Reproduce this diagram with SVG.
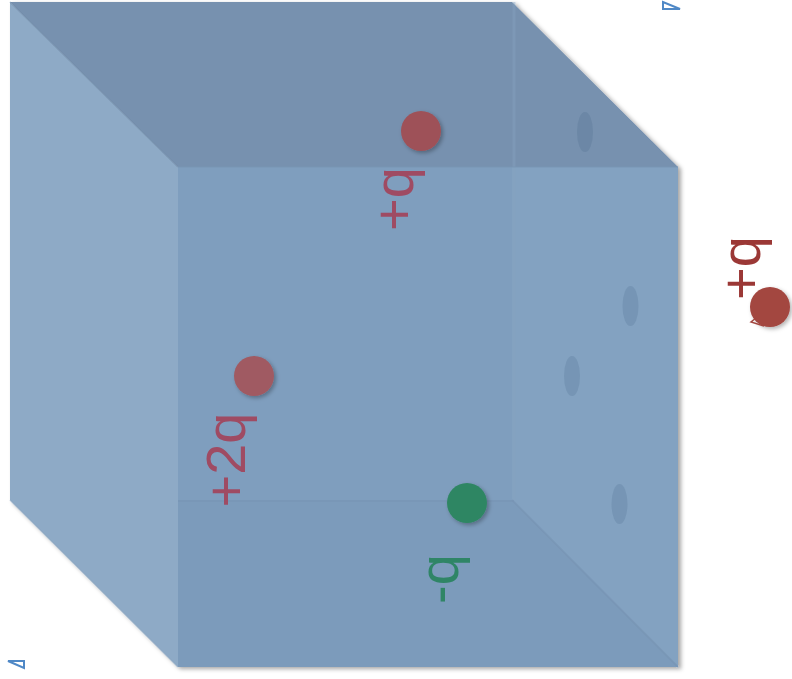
<svg xmlns="http://www.w3.org/2000/svg" width="792" height="679" viewBox="0 0 792 679">
<defs>
<filter id="cubeShadow" x="-5%" y="-5%" width="110%" height="110%">
<feDropShadow dx="3" dy="2" stdDeviation="2" flood-color="#000" flood-opacity="0.35"/>
</filter>
<filter id="dotShadow" x="-50%" y="-50%" width="200%" height="200%">
<feDropShadow dx="2" dy="2" stdDeviation="2" flood-color="#000" flood-opacity="0.3"/>
</filter>
</defs>
<style>
.lbl{font-family:"Liberation Sans",Arial,sans-serif;font-size:56px;text-anchor:middle}
.red{fill:#9f4b63}
.redOut{fill:#9b3836}
.grn{fill:#2f8566}
.hole{fill:#3d5f82;fill-opacity:0.18}
.tri{fill:none;stroke:#4f88c6;stroke-width:2;stroke-linejoin:miter}
</style>
<g id="cube" filter="url(#cubeShadow)">
<polygon points="10,2 512,2 678,167 178,167" fill="#7791af"/>
<polygon points="10,2 178,167 178,667 10,500" fill="#8eaac6"/>
<rect x="178" y="167" width="500" height="500" fill="#7f9ebe"/>
<polygon points="512,167 678,167 678,667 512,500" fill="#83a2c1"/>
<polygon points="178,500 512,500 678,667 178,667" fill="#7c9bbb"/>
<line x1="10" y1="2" x2="178" y2="167" stroke="#6f8aa8" stroke-width="1.5" opacity="0.6"/>
<line x1="514" y1="2" x2="514" y2="500" stroke="#86a2bf" stroke-width="3" opacity="0.45"/>
<line x1="178" y1="501" x2="514" y2="501" stroke="#7896b6" stroke-width="2" opacity="0.6"/>
<line x1="512" y1="500" x2="678" y2="667" stroke="#7794b3" stroke-width="2" opacity="0.6"/>
<line x1="178" y1="167" x2="678" y2="167" stroke="#7896b5" stroke-width="1.5" opacity="0.6"/>
<line x1="10" y1="500" x2="178" y2="667" stroke="#8aa5c1" stroke-width="1.5" opacity="0.6"/>
</g>
<g id="holes">
<ellipse class="hole" cx="585" cy="132" rx="8" ry="20"/>
<ellipse class="hole" cx="630.5" cy="306" rx="8" ry="20"/>
<ellipse class="hole" cx="572" cy="376" rx="8" ry="20"/>
<ellipse class="hole" cx="619.5" cy="504" rx="8" ry="20"/>
</g>
<g id="charge-top">
<circle cx="421" cy="131" r="20" fill="#9e5158" filter="url(#dotShadow)"/>
<text class="lbl red" transform="translate(413,199) rotate(-90)">+q</text>
</g>
<g id="charge-2q">
<circle cx="254" cy="376" r="20" fill="#a05a62" filter="url(#dotShadow)"/>
<text class="lbl red" transform="translate(245,460) rotate(-90)">+2q</text>
</g>
<g id="charge-neg">
<circle cx="467" cy="503" r="20" fill="#2f8664" filter="url(#dotShadow)"/>
<text class="lbl grn" transform="translate(458,579) rotate(-90)">-q</text>
</g>
<g id="charge-out">
<circle cx="770" cy="307" r="20" fill="#a3463f" filter="url(#dotShadow)"/>
<text class="lbl redOut" transform="translate(760,268) rotate(-90)">+q</text>
</g>
<g id="connectors">
<polyline points="764,326 751,322 756,318" fill="none" stroke="#a3463f" stroke-width="1.5"/>
</g>
<g id="marks">
<polygon class="tri" points="663,2 663,9 680,9"/>
<polygon class="tri" points="8,661 24,661 24,668"/>
</g>
</svg>
